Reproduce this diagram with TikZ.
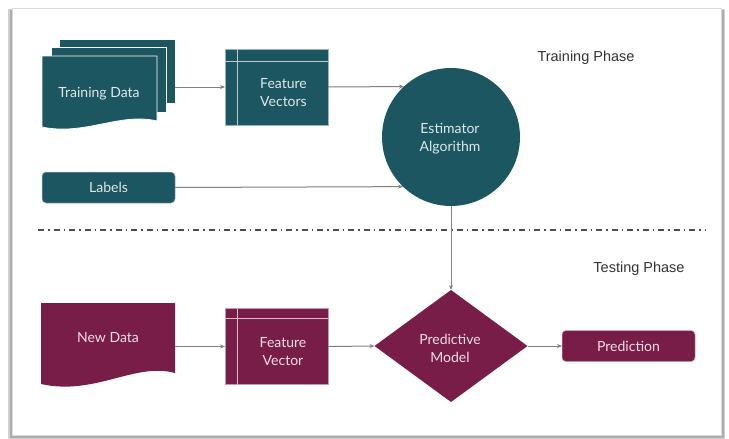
\documentclass[tikz,border=0pt]{standalone}
\usepackage{fontspec}
\setmainfont{Lato}
\newfontfamily\phasefont{Liberation Sans}
\usetikzlibrary{shapes.geometric,arrows.meta}
\definecolor{trainc}{RGB}{28,86,97}
\definecolor{testc}{RGB}{120,29,72}
\definecolor{traintxt}{RGB}{222,232,234}
\definecolor{testtxt}{RGB}{240,222,230}
\definecolor{linkc}{RGB}{128,128,128}
\begin{document}
\begin{tikzpicture}[x=1pt,y=-1pt,
  every node/.style={inner sep=0pt,outer sep=0pt},
  txt/.style={font=\fontsize{14}{18}\selectfont,align=center},
  trtxt/.style={txt,text=traintxt},
  tetxt/.style={txt,text=testtxt},
  fvbox/.style={rectangle,draw=white!55!trainc,line width=0.5pt,minimum width=103pt,minimum height=76pt},
  pill/.style={rectangle,rounded corners=4pt,minimum width=133pt,minimum height=31pt},
  sheet/.style={fill=trainc,draw=white,line width=0.7pt},
  inner/.style={draw=white!70!trainc,line width=0.6pt},
  link/.style={draw=linkc,line width=1pt,-{Stealth[length=5pt,width=4pt]}},
  phase/.style={font=\phasefont\fontsize{14.5}{16}\selectfont,text=black!80}]
\useasboundingbox (0,0) rectangle (729,439);

% page frame with a soft shadow
\fill[black!18] (8,9) rectangle (725,439);
\fill[black!32] (10,10) rectangle (724,438);
\fill[white,draw=black!15,line width=0.6pt] (12,8) rectangle (721,435);

% ---------- training phase ----------
% stacked sheets of training data
\path[sheet] (59,39) rectangle (175,103);
\path[sheet] (51,47) rectangle (166,112);
\path[sheet] (42,56) -- (157,56) -- (157,121)
  .. controls (120,112) and (85,136) .. (42,127) -- cycle;
\node[minimum width=116pt,minimum height=64pt] (tdstack) at (117,71) {};
\node[trtxt] (td) at (99,94) {Training Data};

% feature vectors
\node[fvbox,fill=trainc] (fv) at (276.5,87) {};
\draw[inner] ([xshift=12pt]fv.north west) -- ([xshift=12pt]fv.south west);
\draw[inner] ([yshift=-12pt]fv.north west) -- ([yshift=-12pt]fv.north east);
\node[trtxt] (fvt) at (283.5,92.5) {Feature\\Vectors};

% labels
\node[pill,fill=trainc,draw=white!60!trainc,line width=0.5pt,trtxt] (lab) at (108.5,187.5) {Labels};

% estimator
\node[circle,fill=trainc,minimum size=138pt] (est) at (451,137) {};
\node[trtxt] (estt) at (450,138.5) {Estimator\\Algorithm};

\node[phase] (trp) at (586,58) {Training Phase};

% phase separator
\coordinate (sepl) at (38,230);
\coordinate (sepr) at (705,230);
\draw[black!70,line width=1.2pt,dash pattern=on 6pt off 4pt on 1.5pt off 4pt] (sepl) -- (sepr);

\node[phase] (tsp) at (639,268.5) {Testing Phase};

% ---------- testing phase ----------
\path[fill=testc] (41,303) -- (175,303) -- (175,373)
  .. controls (135,362) and (95,396) .. (41,384) -- cycle;
\node[minimum width=134pt,minimum height=70pt] (nd) at (108,338) {};
\node[tetxt] (ndt) at (108,338) {New Data};

\node[fvbox,draw=white!55!testc,fill=testc] (fv2) at (276.5,346.5) {};
\draw[inner,draw=white!70!testc] ([xshift=12pt]fv2.north west) -- ([xshift=12pt]fv2.south west);
\draw[inner,draw=white!70!testc] ([yshift=-10pt]fv2.north west) -- ([yshift=-10pt]fv2.north east);
\node[tetxt] (fv2t) at (283,352) {Feature\\Vector};

\node[diamond,fill=testc,minimum width=153pt,minimum height=112pt] (pm) at (451,346) {};
\node[tetxt] (pmt) at (450,348) {Predictive\\Model};

\node[pill,fill=testc,draw=white!60!testc,line width=0.5pt,tetxt] (pred) at (628.5,346) {Prediction};

% ---------- connectors ----------
\draw[link] (tdstack.east |- fv.west) -- (fv.west);
\draw[link] (fv.east) -- (est.133.6);
\draw[link] (lab.east) -- (est.226.4);
\draw[link] (est.south) -- (pm.north);
\draw[link] (nd.east |- fv2.west) -- (fv2.west);
\draw[link] (fv2.east) -- (pm.west);
\draw[link] (pm.east) -- (pred.west);
\end{tikzpicture}
\end{document}
